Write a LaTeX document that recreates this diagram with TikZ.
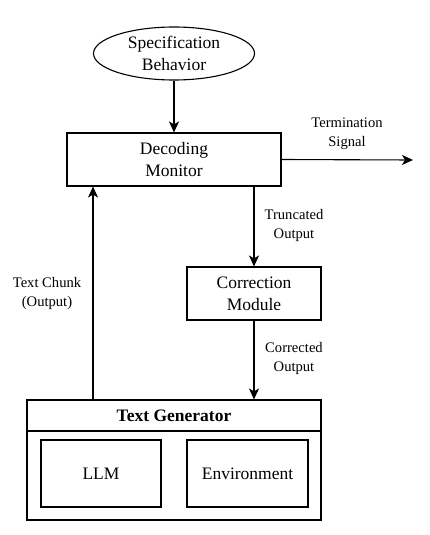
\documentclass[tikz,border=0pt]{standalone}
\usepackage{fontspec}
\setmainfont{Liberation Serif}
\usetikzlibrary{arrows.meta,shapes,positioning}

\begin{document}
\begin{tikzpicture}[x=1pt,y=1pt,line width=1.1pt,
    box/.style={draw,rectangle,inner sep=0pt,align=center,font=\fontsize{17.5}{22}\selectfont},
    lbl/.style={inner sep=0pt,align=center,font=\fontsize{14.6}{19}\selectfont},
    flow/.style={-{Stealth[length=11pt,width=10pt,inset=3pt]}}]
                \useasboundingbox (0,0) rectangle (429,-535);
                \node [box,ellipse,minimum width=161,minimum height=53] (spec) at (174,-53.5) {Specification\\Behavior};
                \node [box,minimum width=214,minimum height=53] (monitor) at (174,-159.5) {Decoding\\Monitor};
                \node [box,minimum width=134,minimum height=53] (correction) at (254,-293.5) {Correction\\Module};
                \node [box,minimum width=294,minimum height=120] (gen) at (174,-460) {};
                \node [box,draw=none,font=\bfseries\fontsize{17.5}{22}\selectfont] (gentitle) at (174,-416) {Text Generator};
                \draw (gen.west |- 0,-431) -- (gen.east |- 0,-431);
                \node [box,minimum width=120,minimum height=67] (llm) at (101,-473.5) {LLM};
                \node [box,minimum width=121,minimum height=67] (env) at (247.5,-473.5) {Environment};
                \coordinate (term) at (413,-160);
                \coordinate (chunk) at (93,-400);
                \draw [flow] (spec) -- (monitor);
                \draw [flow] (monitor.east) -- (term);
                \draw (347,-133.5) node [lbl] {Termination\\Signal};
                \draw [flow] (correction.north |- monitor.south) -- (correction.north);
                \draw (294,-225.5) node [lbl] {Truncated\\Output};
                \draw [flow] (correction.south) -- (correction.south |- gen.north);
                \draw (294,-358) node [lbl] {Corrected\\Output};
                \draw [flow] (chunk) -- (chunk |- monitor.south);
                \draw (47,-293.5) node [lbl] {Text Chunk\\(Output)};
            \end{tikzpicture}
\end{document}
